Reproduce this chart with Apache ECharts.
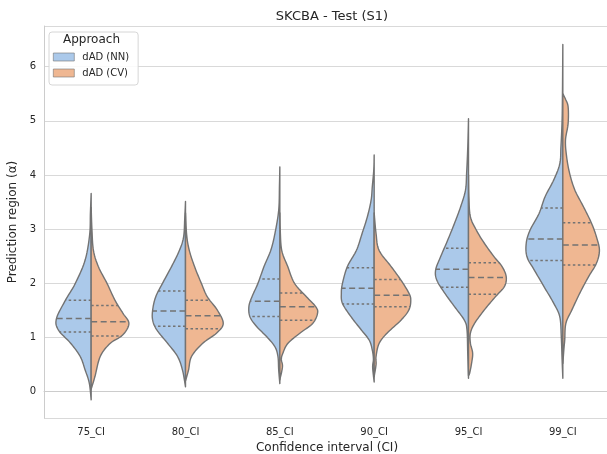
<!DOCTYPE html>
<html>
<head>
<meta charset="utf-8">
<script src="https://cdn.jsdelivr.net/npm/echarts@6/dist/echarts.min.js"></script>
<style>
  html, body { margin: 0; padding: 0; background: #fff; }
  #main { width: 607px; height: 454px; }
</style>
</head>
<body>
<div id="main"></div>
<script>
const categories = ['75_CI', '80_CI', '85_CI', '90_CI', '95_CI', '99_CI'];

// density profiles [value, relative density] (bottom -> top)
const nnProfiles = [
  [[-0.15, 0], [0.16, 0.05], [0.4, 0.16], [0.65, 0.29], [0.9, 0.55], [1.14, 0.87], [1.35, 0.92], [1.69, 0.68], [2.0, 0.42], [2.43, 0.16], [2.9, 0.04], [3.3, 0.02], [3.66, 0]],
  [[0.09, 0], [0.4, 0.08], [0.65, 0.21], [0.89, 0.47], [1.14, 0.76], [1.32, 0.87], [1.51, 0.87], [1.75, 0.79], [2.0, 0.61], [2.31, 0.37], [2.61, 0.16], [2.86, 0.05], [3.2, 0.02], [3.51, 0]],
  [[0.15, 0], [0.4, 0.03], [0.65, 0.05], [0.83, 0.13], [1.01, 0.34], [1.2, 0.61], [1.38, 0.79], [1.57, 0.82], [1.75, 0.74], [2.0, 0.58], [2.31, 0.42], [2.61, 0.24], [2.92, 0.13], [3.35, 0.03], [3.8, 0.01], [4.15, 0]],
  [[0.18, 0], [0.45, 0.04], [0.6, 0.02], [0.77, 0.05], [0.95, 0.13], [1.14, 0.34], [1.38, 0.61], [1.63, 0.84], [1.82, 0.87], [2.0, 0.84], [2.31, 0.71], [2.61, 0.47], [2.92, 0.32], [3.23, 0.18], [3.54, 0.08], [3.78, 0.05], [4.1, 0.01], [4.37, 0]],
  [[0.25, 0], [0.7, 0.02], [1.14, 0.04], [1.32, 0.11], [1.57, 0.37], [1.82, 0.63], [2.06, 0.84], [2.25, 0.87], [2.49, 0.74], [2.8, 0.55], [3.11, 0.37], [3.41, 0.21], [3.72, 0.08], [4.03, 0.05], [4.5, 0.02], [5.04, 0]],
  [[0.25, 0], [0.6, 0.02], [1.0, 0.04], [1.38, 0.08], [1.63, 0.24], [1.94, 0.5], [2.25, 0.76], [2.49, 0.95], [2.74, 0.97], [2.98, 0.87], [3.29, 0.63], [3.6, 0.47], [3.91, 0.24], [4.21, 0.08], [4.52, 0.05], [5.0, 0.02], [5.5, 0.01], [6.41, 0]]
];
const cvProfiles = [
  [[0.05, 0], [0.28, 0.1], [0.65, 0.24], [0.89, 0.5], [1.05, 0.84], [1.26, 1.0], [1.45, 0.84], [1.69, 0.63], [2.0, 0.42], [2.31, 0.19], [2.61, 0.06], [3.0, 0.02], [3.4, 0]],
  [[0.2, 0], [0.4, 0.08], [0.65, 0.16], [0.89, 0.45], [1.08, 0.82], [1.26, 1.0], [1.51, 0.84], [1.75, 0.58], [2.0, 0.42], [2.31, 0.24], [2.61, 0.1], [2.9, 0.03], [3.3, 0]],
  [[0.22, 0], [0.46, 0.07], [0.6, 0.04], [0.71, 0.08], [0.89, 0.21], [1.08, 0.53], [1.26, 0.87], [1.45, 1.0], [1.57, 0.95], [1.75, 0.71], [2.0, 0.39], [2.31, 0.21], [2.61, 0.05], [3.0, 0.01], [3.3, 0]],
  [[0.28, 0], [0.5, 0.05], [0.65, 0.05], [0.89, 0.13], [1.08, 0.34], [1.32, 0.71], [1.51, 0.92], [1.69, 0.97], [1.82, 0.92], [2.06, 0.71], [2.31, 0.45], [2.61, 0.13], [2.92, 0.05], [3.3, 0]],
  [[0.3, 0], [0.34, 0.03], [0.52, 0.08], [0.71, 0.11], [0.9, 0.05], [1.08, 0.05], [1.26, 0.16], [1.51, 0.42], [1.75, 0.71], [1.94, 0.95], [2.12, 1.0], [2.31, 0.89], [2.49, 0.68], [2.74, 0.42], [2.98, 0.21], [3.23, 0.05], [3.6, 0.01], [4.0, 0]],
  [[0.52, 0], [0.8, 0.03], [0.95, 0.05], [1.26, 0.08], [1.51, 0.24], [1.82, 0.45], [2.12, 0.68], [2.37, 0.89], [2.61, 0.97], [2.86, 0.89], [3.11, 0.76], [3.41, 0.55], [3.72, 0.32], [4.03, 0.18], [4.34, 0.1], [4.64, 0.07], [4.95, 0.14], [5.26, 0.14], [5.4, 0.07], [5.5, 0]]
];

// [q1, median, q3]
const nnQuartiles = [[1.10, 1.35, 1.69], [1.21, 1.49, 1.86], [1.39, 1.67, 2.08], [1.62, 1.91, 2.29], [1.93, 2.26, 2.65], [2.42, 2.82, 3.39]];
const cvQuartiles = [[1.03, 1.29, 1.59], [1.16, 1.40, 1.69], [1.32, 1.57, 1.82], [1.57, 1.78, 2.07], [1.80, 2.11, 2.38], [2.34, 2.71, 3.12]];

const nnColor = '#abc9ea';
const cvColor = '#efb792';
const edgeColor = '#737373';
const textColor = '#262626';
const frameColor = '#cccccc';
const font = 'DejaVu Sans';

// catmull-rom through the outline points, kept on its own side of the centre
function spline(pts, cx, side) {
  let out = [];
  for (let k = 0; k < pts.length - 1; k++) {
    let p0 = pts[k - 1] || pts[k], p1 = pts[k], p2 = pts[k + 1], p3 = pts[k + 2] || pts[k + 1];
    for (let s = 0; s < 10; s++) {
      let t = s / 10, t2 = t * t, t3 = t2 * t;
      let pt = [0, 1].map(j => 0.5 * (2 * p1[j] + (-p0[j] + p2[j]) * t +
        (2 * p0[j] - 5 * p1[j] + 4 * p2[j] - p3[j]) * t2 +
        (-p0[j] + 3 * p1[j] - 3 * p2[j] + p3[j]) * t3));
      if ((pt[0] - cx) * side < 0) pt[0] = cx;
      out.push(pt);
    }
  }
  out.push(pts[pts.length - 1]);
  return out;
}

function edgeAt(outline, y) {
  for (let k = 0; k < outline.length - 1; k++) {
    let a = outline[k], b = outline[k + 1];
    if ((a[1] - y) * (b[1] - y) <= 0 && a[1] !== b[1]) {
      return a[0] + (b[0] - a[0]) * (y - a[1]) / (b[1] - a[1]);
    }
  }
  return outline[0][0];
}

function makeRender(profiles, quartiles, side, color) {
  return function (params, api) {
    let i = api.value(0);
    let band = api.size([1, 0])[0];
    let cx = api.coord([i, 0])[0];
    let scale = 0.4 * band;
    let raw = profiles[i].map(p => [cx + side * p[1] * scale, api.coord([i, p[0]])[1]]);
    let outline = spline(raw, cx, side);
    let children = [{
      type: 'polygon',
      shape: { points: outline },
      style: { fill: color, stroke: edgeColor, lineWidth: 1.4, lineJoin: 'round' }
    }];
    quartiles[i].forEach((q, k) => {
      let y = api.coord([i, q])[1];
      children.push({
        type: 'line',
        shape: { x1: cx, y1: y, x2: edgeAt(outline, y), y2: y },
        style: { stroke: edgeColor, lineWidth: 1.5, lineDash: k === 1 ? [6, 3.5] : [2.5, 2.5] }
      });
    });
    return { type: 'group', children: children };
  };
}

const chart = echarts.init(document.getElementById('main'), null, { renderer: 'canvas' });

const option = {
  animation: false,
  textStyle: { fontFamily: font },
  title: {
    text: 'SKCBA - Test (S1)',
    left: 327,
    textAlign: 'center',
    top: 5,
    textStyle: { fontFamily: font, fontSize: 13, fontWeight: 'normal', color: textColor }
  },
  // plot runs past the right edge of the picture, like the cropped reference
  grid: {
    left: 44, top: 26, width: 566, height: 392,
    containLabel: false,
    outerBoundsMode: 'none',
    show: false
  },
  legend: {
    orient: 'vertical',
    left: 49, top: 32,
    padding: [19, 9, 6, 4],
    itemWidth: 21, itemHeight: 8, itemGap: 4,
    icon: 'rect',
    itemStyle: { borderColor: edgeColor, borderWidth: 0.6 },
    backgroundColor: 'rgba(255,255,255,0.85)',
    borderColor: '#d6d6d6', borderWidth: 1, borderRadius: 3,
    textStyle: { fontFamily: font, fontSize: 10, color: textColor, lineHeight: 12, padding: [0, 0, 0, 3] },
    data: ['dAD (NN)', 'dAD (CV)']
  },
  graphic: [{
    type: 'text', left: 63, top: 34, z: 100,
    style: { text: 'Approach', fontFamily: font, fontSize: 12, fill: textColor }
  }],
  xAxis: {
    type: 'category',
    data: categories,
    axisLine: { show: true, lineStyle: { color: frameColor } },
    axisTick: { show: false },
    axisLabel: { fontSize: 10, color: textColor, margin: 9 },
    name: 'Confidence interval (CI)',
    nameLocation: 'middle',
    nameGap: 22,
    nameTextStyle: { fontSize: 12, color: textColor }
  },
  yAxis: {
    type: 'value',
    min: -0.485, max: 6.75,
    axisLine: { show: true, lineStyle: { color: frameColor } },
    axisTick: { show: false },
    splitLine: { lineStyle: { color: '#d9d9d9' } },
    axisLabel: {
      fontSize: 10, color: textColor, margin: 8,
      showMinLabel: false, showMaxLabel: false,
      formatter: v => Number.isInteger(v) ? String(v) : ''
    },
    name: 'Prediction region (\u03b1)',
    nameLocation: 'middle',
    nameGap: 21,
    nameTextStyle: { fontSize: 12, color: textColor }
  },
  series: [{
    name: 'dAD (NN)',
    type: 'custom',
    itemStyle: { color: nnColor },
    renderItem: makeRender(nnProfiles, nnQuartiles, -1, nnColor),
    data: categories.map((c, i) => [i])
  }, {
    name: 'dAD (CV)',
    type: 'custom',
    itemStyle: { color: cvColor },
    renderItem: makeRender(cvProfiles, cvQuartiles, 1, cvColor),
    data: categories.map((c, i) => [i])
  }]
};

chart.setOption(option);
</script>
</body>
</html>
